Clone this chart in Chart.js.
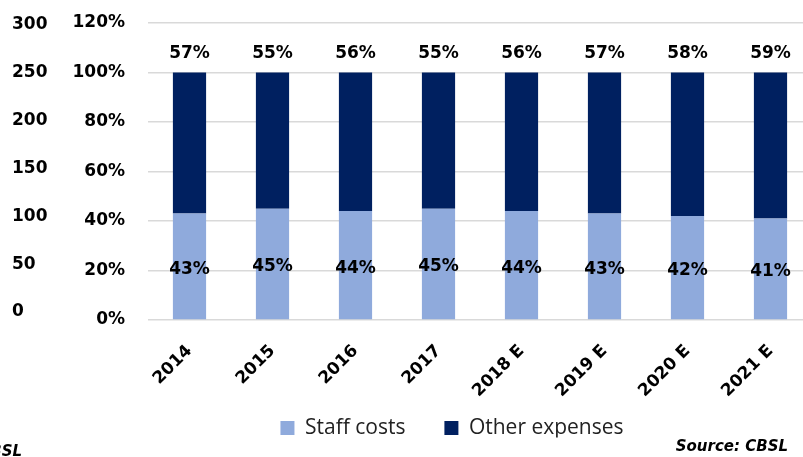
<!DOCTYPE html>
<html>
<head>
<meta charset="utf-8">
<script src="https://cdn.jsdelivr.net/npm/chart.js@4/dist/chart.umd.min.js"></script>
<style>
  html, body { margin: 0; padding: 0; width: 803px; height: 457px; overflow: hidden; background: #fff; }
  #wrap { position: relative; width: 812px; height: 457px; }
  canvas { display: block; }
  .src { position: absolute; font: italic bold 15px "DejaVu Sans", sans-serif; line-height: 15px; color: #000; white-space: nowrap; }
</style>
</head>
<body>
<div id="wrap">
  <canvas id="chart" width="812" height="457"></canvas>
  <div class="src" style="right: 790px; top: 444px;">Source: CBSL</div>
  <div class="src" style="right: 24px; top: 439px;">Source: CBSL</div>
</div>
<script>
// Cost structure: staff costs vs other expenses, share of total (%)
const categories = ['2014', '2015', '2016', '2017', '2018 E', '2019 E', '2020 E', '2021 E'];
const staffCosts = [43, 45, 44, 45, 44, 43, 42, 41];
const otherExpenses = [57, 55, 56, 55, 56, 57, 58, 59];
const percentTicks = [0, 20, 40, 60, 80, 100, 120];
const amountTicks = [0, 50, 100, 150, 200, 250, 300];

const BOLD = { family: '"DejaVu Sans", sans-serif', size: 17, weight: 'bold' };
const LIGHT = '#8FAADC';
const NAVY = '#002060';

// Percentage labels: inside the staff segment, above the stacked bar for the rest
const valueLabels = {
  id: 'valueLabels',
  afterDatasetsDraw(chart) {
    const ctx = chart.ctx;
    ctx.save();
    ctx.font = 'bold 17px "DejaVu Sans", sans-serif';
    ctx.fillStyle = '#000';
    ctx.textAlign = 'center';
    ctx.textBaseline = 'middle';
    chart.getDatasetMeta(0).data.forEach((bar, i) => {
      ctx.fillText(staffCosts[i] + '%', bar.x, (bar.y + bar.base) / 2 + 3);
    });
    chart.getDatasetMeta(1).data.forEach((bar, i) => {
      ctx.fillText(otherExpenses[i] + '%', bar.x, bar.y - 19);
    });
    ctx.restore();
  }
};

// Place the legend centred under the plotted columns, just above the source note
const legendShift = {
  id: 'legendShift',
  afterLayout(chart) {
    const lg = chart.legend;
    if (lg) {
      lg.left += 40;
      lg.right += 40;
      lg.top -= 19.5;
      lg.bottom -= 19.5;
    }
  }
};

new Chart(document.getElementById('chart'), {
  type: 'bar',
  data: {
    labels: categories,
    datasets: [
      { label: 'Staff costs', data: staffCosts, backgroundColor: LIGHT, borderWidth: 0, yAxisID: 'y' },
      { label: 'Other expenses', data: otherExpenses, backgroundColor: NAVY, borderWidth: 0, yAxisID: 'y' }
    ]
  },
  options: {
    responsive: false,
    devicePixelRatio: 1,
    animation: false,
    datasets: { bar: { categoryPercentage: 1, barPercentage: 0.4 } },
    layout: { padding: { left: 12, top: 23, right: 0, bottom: 0 } },
    scales: {
      x: {
        stacked: true,
        grid: { display: false },
        border: { display: false },
        ticks: { font: BOLD, color: '#000', minRotation: 45, maxRotation: 45, padding: 13 },
        afterFit(s) { s.height = 78; }
      },
      y: {
        stacked: true,
        position: 'left',
        weight: 0,
        min: 0,
        max: 120,
        grid: { color: '#d9d9d9', lineWidth: 1.5, drawTicks: false },
        border: { display: false },
        ticks: { font: BOLD, color: '#000', padding: 23, callback: v => v + '%' },
        afterBuildTicks(s) { s.ticks = percentTicks.map(v => ({ value: v })); },
        afterFit(s) { s.width = 76; s.paddingTop = 10; s.paddingBottom = 10; }
      },
      y2: {
        type: 'linear',
        position: 'left',
        weight: 1,
        min: -8.4,
        max: 302.1,
        grid: { display: false, drawTicks: false },
        border: { display: false },
        ticks: { font: BOLD, color: '#000', crossAlign: 'far', padding: 0 },
        afterBuildTicks(s) { s.ticks = amountTicks.map(v => ({ value: v })); },
        afterFit(s) { s.width = 60; s.paddingTop = 10; s.paddingBottom = 10; }
      }
    },
    plugins: {
      legend: {
        position: 'bottom',
        maxHeight: 59,
        labels: {
          boxWidth: 14,
          boxHeight: 14,
          padding: 39,
          color: '#222',
          font: { family: '"Open Sans", sans-serif', size: 21, weight: 'normal' }
        }
      },
      title: { display: false },
      tooltip: { enabled: false }
    }
  },
  plugins: [valueLabels, legendShift]
});
</script>
</body>
</html>
